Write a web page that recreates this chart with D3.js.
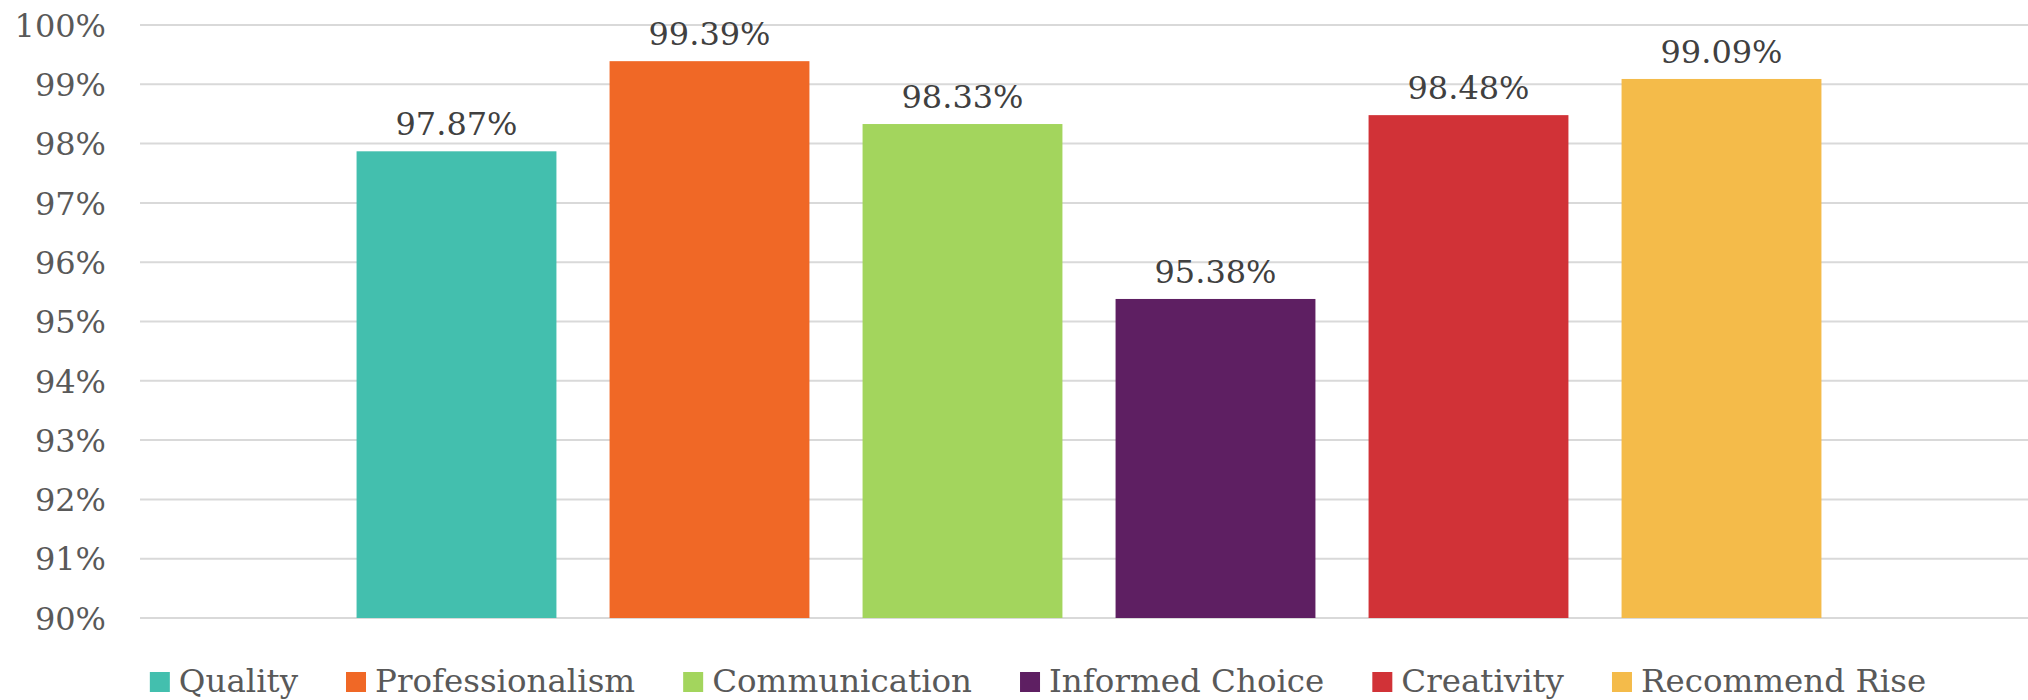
<!DOCTYPE html>
<html>
<head>
<meta charset="utf-8">
<script src="https://cdn.jsdelivr.net/npm/d3@7"></script>
<style>
  body { margin: 0; background: #fff; }
  svg { display: block; font-family: 'DejaVu Serif', Georgia, serif; }
</style>
</head>
<body>
<svg id="chart" width="2028" height="700"></svg>
<script>

// data
const seriesNames = ["Quality", "Professionalism", "Communication", "Informed Choice", "Creativity", "Recommend Rise"];
const seriesValues = [97.87, 99.39, 98.33, 95.38, 98.48, 99.09];
const seriesColors = ["#43bfae", "#f06826", "#a3d55d", "#5e1f62", "#d13237", "#f4bb4a"];
const yTicks = [90, 91, 92, 93, 94, 95, 96, 97, 98, 99, 100];

let svg = d3.select("#chart");

let gridLeft = 140;
let gridRight = 2028;

let y = d3.scaleLinear().domain([90, 100]).range([618, 25]);

let x = d3.scaleBand()
  .domain(seriesNames)
  .range([330, 1848])
  .paddingInner(0.21)
  .paddingOuter(0.105);

// gridlines
svg.append("g").selectAll("line")
  .data(yTicks)
  .enter().append("line")
    .attr("x1", gridLeft)
    .attr("x2", gridRight)
    .attr("y1", d => y(d))
    .attr("y2", d => y(d))
    .attr("stroke", "#d9d9d9")
    .attr("stroke-width", 2);

// y axis labels, no domain line or ticks
let yAxis = d3.axisLeft(y)
  .tickValues(yTicks)
  .tickFormat(d => d + "%")
  .tickSize(0)
  .tickPadding(0);

let axisG = svg.append("g")
  .attr("transform", "translate(106,0)")
  .call(yAxis);
axisG.select(".domain").remove();
axisG.selectAll("text")
  .attr("font-family", "'DejaVu Serif', Georgia, serif")
  .attr("font-size", 32)
  .attr("fill", "#595959")
  .attr("dy", "0.35em");

// bars
svg.append("g").selectAll("rect")
  .data(seriesNames)
  .enter().append("rect")
    .attr("x", d => x(d))
    .attr("width", x.bandwidth())
    .attr("y", (d, i) => y(seriesValues[i]))
    .attr("height", (d, i) => y(90) - y(seriesValues[i]))
    .attr("fill", (d, i) => seriesColors[i]);

// value labels
svg.append("g").selectAll("text")
  .data(seriesNames)
  .enter().append("text")
    .attr("x", d => x(d) + x.bandwidth() / 2)
    .attr("y", (d, i) => y(seriesValues[i]) - 16)
    .attr("text-anchor", "middle")
    .attr("font-size", 32)
    .attr("fill", "#404040")
    .text((d, i) => seriesValues[i].toFixed(2) + "%");

// legend, measured then centred
let legendCenter = 1038;
let legendBaseline = 692;
let swatch = 20, swatchGap = 9, itemGap = 48;

let legend = svg.append("g");
let items = legend.selectAll("g")
  .data(seriesNames)
  .enter().append("g");

items.append("rect")
  .attr("width", swatch)
  .attr("height", swatch)
  .attr("y", legendBaseline - 20)
  .attr("fill", (d, i) => seriesColors[i]);

items.append("text")
  .attr("x", swatch + swatchGap)
  .attr("y", legendBaseline)
  .attr("font-size", 32.5)
  .attr("fill", "#595959")
  .text(d => d);

let offsets = [];
let pos = 0;
items.each(function() {
  offsets.push(pos);
  let w = d3.select(this).select("text").node().getComputedTextLength();
  pos += swatch + swatchGap + w + itemGap;
});
let total = pos - itemGap;
let start = legendCenter - total / 2;
items.attr("transform", (d, i) => "translate(" + (start + offsets[i]) + ",0)");

</script>
</body>
</html>
